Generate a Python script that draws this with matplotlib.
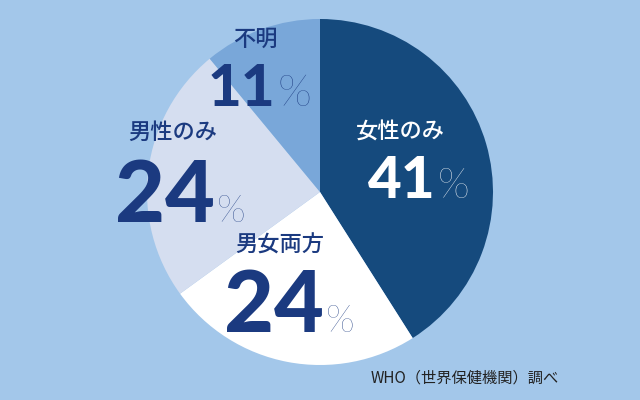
import matplotlib.pyplot as plt

plt.rcParams['font.family'] = ['Noto Sans CJK JP', 'DejaVu Sans']

# slices clockwise from 12 o'clock
labels = ["女性のみ", "男女両方", "男性のみ", "不明"]
values = [41, 24, 24, 11]
colors = ["#154a7d", "#ffffff", "#d5def0", "#79a7d9"]
source = "WHO（世界保健機関）調べ"

bg = "#a3c7ea"
navy = "#1b3a80"

fig = plt.figure(figsize=(6.4, 4), dpi=100, facecolor=bg)
ax = fig.add_axes([0, 0, 1, 1])
ax.set_facecolor(bg)

ax.pie(values, colors=colors, startangle=90, counterclock=False,
       center=(320, 208), radius=173, frame=True)
ax.set_xlim(0, 640)
ax.set_ylim(0, 400)
ax.set_aspect('equal')
ax.axis('off')

# label centre (x, y from top); number left x, baseline (from top), size, % size
lab_pos = [(400, 132), (280, 245), (173, 132), (255, 39)]
num_pos = [(368, 198, 42, 30), (224, 332, 62, 27), (115, 222, 62, 27), (208, 106, 42, 32)]
text_cols = ["white", navy, navy, navy]

for lab, v, lp, npos, c in zip(labels, values, lab_pos, num_pos, text_cols):
    ax.text(lp[0], 400 - lp[1], lab, ha='center', va='center', fontsize=16,
            color=c, fontweight='medium')
    t = ax.text(npos[0], 400 - npos[1], str(v), ha='left', va='baseline',
                fontsize=npos[2], color=c, fontweight='black', family='Lato')
    fig.canvas.draw()
    bb = t.get_window_extent().transformed(ax.transData.inverted())
    ax.text(bb.x1 + 2, 400 - npos[1], "%", ha='left', va='baseline',
            fontsize=npos[3], color=c, fontweight='light', family='Lato')

ax.text(465, 22, source, ha='center', va='center', fontsize=11, color="#222222")

fig.savefig("out.png", dpi=100, facecolor=bg)
